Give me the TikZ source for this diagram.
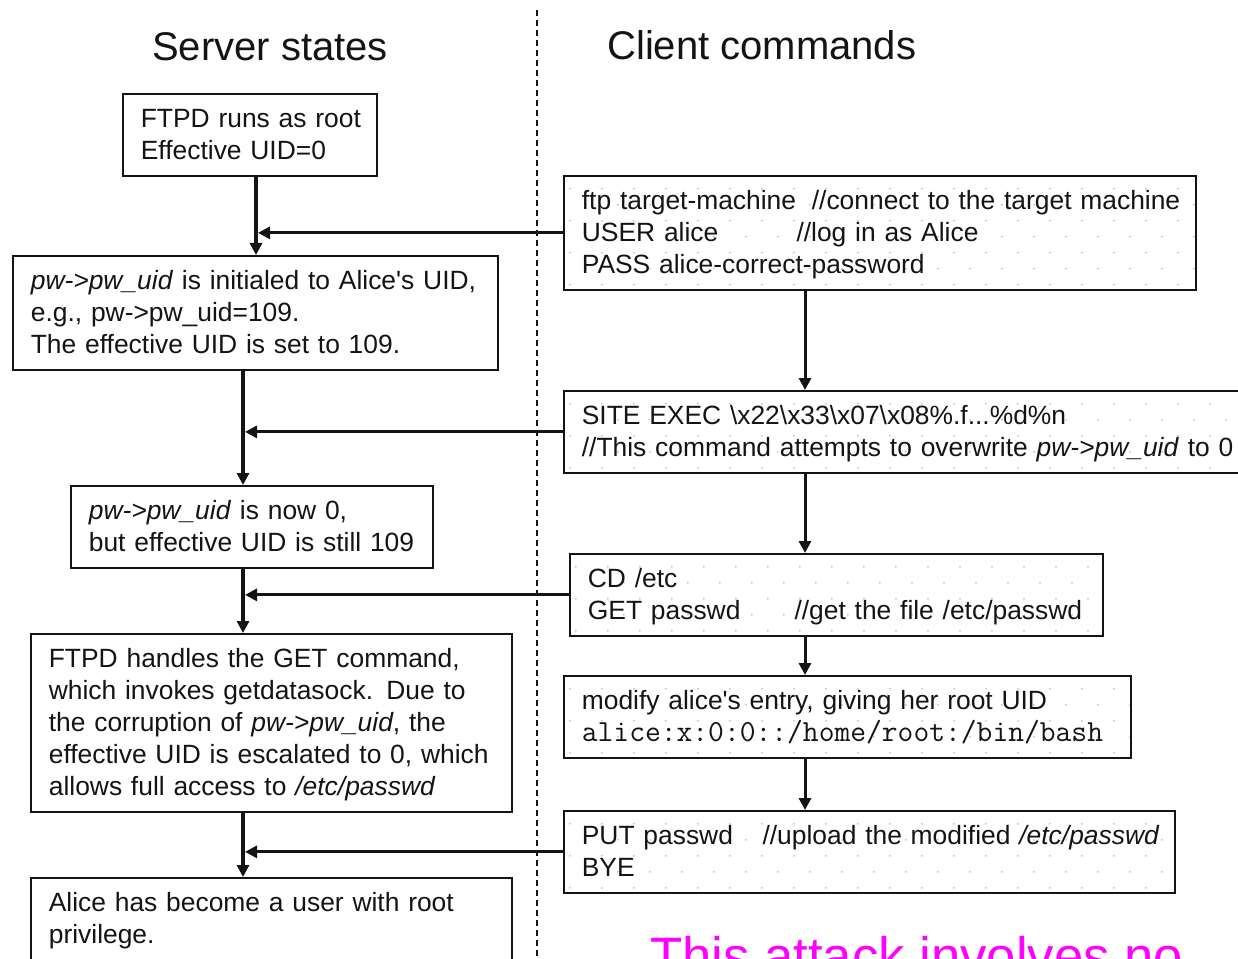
\documentclass[tikz,border=0pt]{standalone}
\usepackage{fontspec}
\setmainfont{Liberation Sans}
\usetikzlibrary{arrows.meta}
\definecolor{dotgray}{RGB}{195,195,195}
\definecolor{attack}{RGB}{255,0,255}
\definecolor{ink}{RGB}{20,20,20}

\begin{document}
\begin{tikzpicture}[x=0.75pt,y=-0.75pt,
  % framed text box; #1 is the text width
  box/.style={draw=ink, line width=1.3pt, fill=white, anchor=north west,
    inner xsep=13.5pt, inner ysep=0pt, text width=#1, align=left, text=ink,
    font=\fontsize{19.8}{24}\selectfont,
    execute at begin node={\parindent=0pt\rule{0pt}{25.5pt}},
    execute at end node={\rule[-12pt]{0pt}{0pt}}},
  % client command box with a staggered grid of grey dots
  dotbox/.style={box=#1,
    path picture={
      \foreach \r in {0,...,9}{
        \pgfmathsetmacro{\off}{mod(\r,2)*12+4.5}
        \foreach \c in {0,...,30}{
          \fill[dotgray] ([xshift=\c*24pt+\off pt, yshift=-\r*12pt-9.75pt]path picture bounding box.north west) circle[radius=0.75pt];
        }
      }
    }},
  title/.style={font=\fontsize{30}{36}\selectfont, inner sep=0pt, anchor=base west, text=ink},
  trunk/.style={draw=ink, line width=3pt, -{Triangle[length=9pt,width=9pt]}},
  feed/.style={draw=ink, line width=2.25pt, -{Triangle[length=9pt,width=9pt]}},
  cflow/.style={draw=ink, line width=2.25pt, -{Triangle[length=9pt,width=9pt]}},
  divider/.style={draw=ink, line width=1.1pt, dash pattern=on 4.5pt off 3pt}
]
\useasboundingbox (0,0) rectangle (1238,959);
\fill[white] (0,0) rectangle (1238,959);
\clip (0,0) rectangle (1238,959);

% column divider and headings
\coordinate (dtop) at (537,10);
\coordinate (dbot) at (537,959);
\draw[divider] (dtop) -- (dbot);
\node[title] (srvT) at (152,61) {Server states};
\node[title] (cliT) at (607,60) {Client commands};

% server states
\node[box=163.5pt] (s1) at (122,93) {\mbox{FTPD runs as root}\\\mbox{Effective UID=0}};
\node[box=336.75pt] (s2) at (12,255) {\mbox{\textit{pw->pw\_uid} is initialed to Alice\textquotesingle s UID,}\\e.g., pw->pw\_uid=109.\\The effective UID is set to 109.};
\node[box=244.5pt] (s3) at (70,485) {\mbox{\textit{pw->pw\_uid} is now 0,}\\\mbox{but effective UID is still 109}};
\node[box=333.75pt] (s4) at (30,633) {\mbox{FTPD handles the GET command,}\\\mbox{which invokes getdatasock. Due to}\\\mbox{the corruption of \textit{pw->pw\_uid}, the}\\\mbox{effective UID is escalated to 0, which}\\\mbox{allows full access to \textit{/etc/passwd}}};
\node[box=333.75pt] (s5) at (30,877) {\mbox{Alice has become a user with root}\\privilege.};

% client commands
\node[dotbox=447pt] (c1) at (563,175) {\mbox{\makebox[172.5pt][l]{ftp target-machine}//connect to the target machine}\\\mbox{\makebox[161pt][l]{USER alice}//log in as Alice}\\PASS alice-correct-password};
\node[dotbox=498pt] (c2) at (563,390) {\mbox{SITE EXEC \textbackslash x22\textbackslash x33\textbackslash x07\textbackslash x08\%.f...\%d\%n}\\\mbox{//This command attempts to overwrite \textit{pw->pw\_uid} to 0}};
\node[dotbox=372.75pt] (c3) at (569,553) {CD /etc\\\mbox{\makebox[155pt][l]{GET passwd}//get the file /etc/passwd}};
\node[dotbox=398.25pt] (c4) at (563,675) {\mbox{modify alice\textquotesingle s entry, giving her root UID}\\\mbox{\fontsize{23}{24}\selectfont\ttfamily alice:x:0:0::/home/root:/bin/bash}};
\node[dotbox=431.25pt] (c5) at (563,810) {\mbox{\makebox[135.5pt][l]{PUT passwd}//upload the modified \textit{/etc/passwd}}\\BYE};

% x positions of the connector columns
\coordinate (sx1) at (256,0);
\coordinate (hx1) at (258,0);
\coordinate (sx) at (243,0);
\coordinate (hx) at (245,0);
\coordinate (cx) at (805,0);

% server flow, with client commands feeding in
\draw[trunk] (s1.south -| sx1) -- (s2.north -| sx1);
\draw[feed] (c1.west) -- (c1.west -| hx1);
\draw[trunk] (s2.south -| sx) -- (s3.north -| sx);
\draw[feed] (c2.west) -- (c2.west -| hx);
\draw[trunk] (s3.south -| sx) -- (s4.north -| sx);
\draw[feed] (c3.west) -- (c3.west -| hx);
\draw[trunk] (s4.south -| sx) -- (s5.north -| sx);
\draw[feed] (c5.west) -- (c5.west -| hx);

% client command sequence
\draw[cflow] (c1.south -| cx) -- (c2.north -| cx);
\draw[cflow] (c2.south -| cx) -- (c3.north -| cx);
\draw[cflow] (c3.south -| cx) -- (c4.north -| cx);
\draw[cflow] (c4.south -| cx) -- (c5.north -| cx);

% closing remark, running off the lower edge
\node[anchor=base west, inner sep=0pt, text=attack, font=\fontsize{39.5}{48}\selectfont] (note) at (650,974) {This attack involves no};
\end{tikzpicture}
\end{document}
